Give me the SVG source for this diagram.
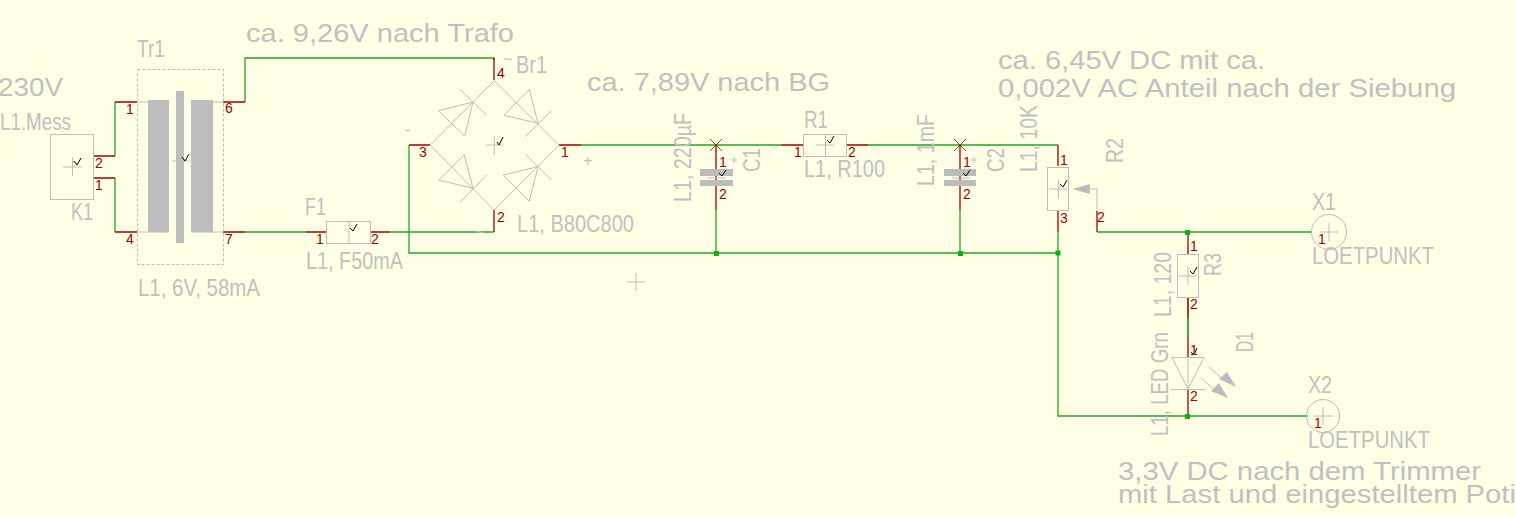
<svg xmlns="http://www.w3.org/2000/svg" width="1516" height="517" viewBox="0 0 1516 517">
<style>
text{font-family:"Liberation Sans",Arial,sans-serif}
.t{fill:#c0c0c0;font-size:24px}
.b{fill:#c0c0c0;font-size:25px}
.s{fill:#c0c0c0;font-size:16px}
.p{fill:#a00000;font-size:14px}
.g{fill:none;stroke:#bcbcbc;stroke-width:1}
.f{fill:#bcbcbc;stroke:none}
.w{fill:none;stroke:#1fa81f;stroke-width:1.3}
.r{fill:none;stroke:#a00000;stroke-width:1.3}
.x{fill:none;stroke:#a00000;stroke-width:.8}
.c{fill:none;stroke:#000;stroke-width:1}
.j{fill:#10b010}
</style>
<rect width="1516" height="517" fill="#ffffe6"/>
<g id="connectors">
<path class="w" d="M115 156V102M115 178V232M245 102V58H494V60M245 232H306M390 232H494M409 145V253H1058M581 145H781M868 145H1058M716 210V253M960 210V253M1058 232V416H1187M1097 232H1312M1187 416H1308M1188 297V336"/>
<path class="r" d="M93 156H115M93 178H115M115 102H137M115 232H137M223 102H245M223 232H245M306 232H326M370 232H390M494 58V80M494 210V232M409 145H430M559 145H581M781 145H803M846 145H868M716 145V210M960 145V210M1058 145V166M1058 211V232M1097 211V232M1188 232V254M1188 297V318M1188 336V358M1188 390V416"/>
<path class="w" d="M1188 318V336"/>
<rect class="j" x="714" y="251" width="5" height="5"/>
<rect class="j" x="958" y="251" width="5" height="5"/>
<rect class="j" x="1055.500" y="250.500" width="5" height="5"/>
<rect class="j" x="1185" y="230" width="5" height="5"/>
<rect class="j" x="1185" y="414" width="5" height="5"/>
</g>
<g id="free-texts">
<text class="b" x="-2" y="96" textLength="65" lengthAdjust="spacingAndGlyphs">230V</text>
<text class="b" x="246" y="42" textLength="268" lengthAdjust="spacingAndGlyphs">ca. 9,26V nach Trafo</text>
<text class="b" x="587" y="91" textLength="243" lengthAdjust="spacingAndGlyphs">ca. 7,89V nach BG</text>
<text class="b" x="998" y="69" textLength="267" lengthAdjust="spacingAndGlyphs">ca. 6,45V DC mit ca.</text>
<text class="b" x="998" y="97" textLength="458" lengthAdjust="spacingAndGlyphs">0,002V AC Anteil nach der Siebung</text>
<text class="b" x="1118" y="480" textLength="363" lengthAdjust="spacingAndGlyphs">3,3V DC nach dem Trimmer</text>
<text class="b" x="1118" y="503" textLength="398" lengthAdjust="spacingAndGlyphs">mit Last und eingestelltem Poti</text>
<path class="g" d="M627 282H645M636 273V291"/>
</g>
<g id="K1">
<rect class="g" x="50.500" y="134.500" width="43" height="65"/>
<path class="g" d="M63 167H82M72.500 157V176"/>
<path class="c" d="M74 161L77 165L81 158"/>
<text class="t" x="0" y="130" textLength="71" lengthAdjust="spacingAndGlyphs">L1.Mess</text>
<text class="t" x="71" y="220" textLength="22" lengthAdjust="spacingAndGlyphs">K1</text>
<text class="p" x="95" y="168">2</text>
<text class="p" x="95" y="190">1</text>
</g>
<g id="Tr1">
<rect class="g" x="137.500" y="69.500" width="86" height="195" stroke-dasharray="3 2"/>
<rect class="f" x="148" y="100" width="21" height="132.500"/>
<rect class="f" x="176" y="91" width="8" height="152"/>
<rect class="f" x="191" y="100" width="22" height="132.500"/>
<path class="g" d="M137 102H148M213 102H223M137 232H148M213 232H223M172 161H190"/>
<path class="c" d="M182 157L185 161L189 154"/>
<text class="t" x="137" y="57" textLength="28" lengthAdjust="spacingAndGlyphs">Tr1</text>
<text class="t" x="138" y="296" textLength="122" lengthAdjust="spacingAndGlyphs">L1, 6V, 58mA</text>
<text class="p" x="126" y="114">1</text>
<text class="p" x="126" y="244">4</text>
<text class="p" x="225" y="113">6</text>
<text class="p" x="225" y="244">7</text>
</g>
<g id="F1">
<rect class="g" x="326.500" y="221.500" width="44" height="22"/>
<path class="g" d="M349 221V243"/>
<path class="c" d="M350 228L353 231L357 224"/>
<text class="t" x="305" y="215" textLength="21" lengthAdjust="spacingAndGlyphs">F1</text>
<text class="t" x="306" y="269" textLength="97" lengthAdjust="spacingAndGlyphs">L1, F50mA</text>
<text class="p" x="316" y="244">1</text>
<text class="p" x="371" y="244">2</text>
</g>
<g id="Br1">
<path class="g" d="M494.300 80.700L430 145.300L494.300 210L559 145.300Z"/>
<path class="g" d="M438.300 110.700L473 102L464.700 136ZM460 89.300L486.700 115.300"/>
<path class="g" d="M504 115.300L529.300 89.300L538 123.300ZM525.300 136.700L551.300 110.700"/>
<path class="g" d="M438.700 180L464.300 154.700L473 188.300ZM460 202.300L486.700 175"/>
<path class="g" d="M503.300 175L538 166.700L529.300 201.300ZM525.300 154L551.300 180"/>
<path class="g" d="M486 145H503M494.300 136V155"/>
<path class="c" d="M497 142L499 145L503 137"/>
<text class="t" x="516" y="73" textLength="31" lengthAdjust="spacingAndGlyphs">Br1</text>
<text class="t" x="517" y="232" textLength="117" lengthAdjust="spacingAndGlyphs">L1, B80C800</text>
<text class="s" x="503" y="65">~</text>
<text class="s" x="475" y="238">~</text>
<text class="s" x="405" y="135">-</text>
<text class="s" x="583" y="166">+</text>
<text class="p" x="497" y="78">4</text>
<text class="p" x="497" y="222">2</text>
<text class="p" x="419" y="157">3</text>
<text class="p" x="561" y="157">1</text>
</g>
<g id="C1">
<rect class="f" x="700" y="169" width="33" height="7"/>
<rect class="f" x="700" y="180" width="33" height="6"/>
<path class="x" d="M710 139L722 151M722 139L710 151"/>
<path class="g" d="M708 178H726M734 157V163M731 160H737"/>
<path class="c" d="M719 173L722 176L726 170"/>
<text class="t" transform="translate(691 202) rotate(-90)" textLength="89" lengthAdjust="spacingAndGlyphs">L1, 220µF</text>
<text class="t" transform="translate(760 172) rotate(-90)" textLength="24" lengthAdjust="spacingAndGlyphs">C1</text>
<text class="p" x="719" y="167">1</text>
<text class="p" x="719" y="199">2</text>
</g>
<g id="R1">
<rect class="g" x="803.500" y="134.500" width="43" height="22"/>
<path class="g" d="M816 145H834M825.500 134V156"/>
<path class="c" d="M827 140L830 143L834 136"/>
<text class="t" x="804" y="128" textLength="24" lengthAdjust="spacingAndGlyphs">R1</text>
<text class="t" x="804" y="177" textLength="81" lengthAdjust="spacingAndGlyphs">L1, R100</text>
<text class="p" x="794" y="157">1</text>
<text class="p" x="848" y="157">2</text>
</g>
<g id="C2">
<rect class="f" x="944" y="169" width="32" height="7"/>
<rect class="f" x="944" y="180" width="32" height="6"/>
<path class="x" d="M954 139L966 151M966 139L954 151"/>
<path class="g" d="M952 178H970M974 157V163M971 160H977"/>
<path class="c" d="M963 173L966 176L970 170"/>
<text class="t" transform="translate(934 186) rotate(-90)" textLength="72" lengthAdjust="spacingAndGlyphs">L1, 1mF</text>
<text class="t" transform="translate(1004 172) rotate(-90)" textLength="24" lengthAdjust="spacingAndGlyphs">C2</text>
<text class="p" x="963" y="167">1</text>
<text class="p" x="963" y="199">2</text>
</g>
<g id="R2">
<rect class="g" x="1047.500" y="167.500" width="21" height="43"/>
<path class="g" d="M1049 189H1067M1058.500 180V198M1090 189H1097V211"/>
<path class="f" d="M1072 189L1090 184V194Z"/>
<path class="c" d="M1060 184L1063 187L1067 180"/>
<text class="t" transform="translate(1037 172) rotate(-90)" textLength="67" lengthAdjust="spacingAndGlyphs">L1, 10K</text>
<text class="t" transform="translate(1123 163) rotate(-90)" textLength="25" lengthAdjust="spacingAndGlyphs">R2</text>
<text class="p" x="1060" y="165">1</text>
<text class="p" x="1060" y="223">3</text>
<text class="p" x="1097" y="222">2</text>
</g>
<g id="R3">
<rect class="g" x="1177.500" y="254.500" width="21" height="43"/>
<path class="g" d="M1179 276H1197M1188 267V285"/>
<path class="c" d="M1190 271L1193 274L1197 267"/>
<text class="t" transform="translate(1171 317) rotate(-90)" textLength="65" lengthAdjust="spacingAndGlyphs">L1, 120</text>
<text class="t" transform="translate(1221 276) rotate(-90)" textLength="23" lengthAdjust="spacingAndGlyphs">R3</text>
<text class="p" x="1190" y="251">1</text>
<text class="p" x="1190" y="309">2</text>
</g>
<g id="D1">
<path class="g" d="M1172 357.500H1204L1188 389ZM1171 389.500H1205M1188 357V389"/>
<path class="g" d="M1209 367L1224 380M1201 378L1216 391"/>
<path class="f" d="M1236 387L1219 379L1227 372ZM1228 398L1211 391L1219 383Z"/>
<path class="c" d="M1191 352L1194 355L1197 348"/>
<text class="t" transform="translate(1168 436) rotate(-90)" textLength="104" lengthAdjust="spacingAndGlyphs">L1, LED Grn</text>
<text class="t" transform="translate(1253 352) rotate(-90)" textLength="20" lengthAdjust="spacingAndGlyphs">D1</text>
<text class="p" x="1190" y="355">1</text>
<text class="p" x="1190" y="401">2</text>
</g>
<g id="X1">
<circle class="g" cx="1329" cy="232" r="17.500"/>
<path class="g" d="M1320 232H1338M1329 223V241"/>
<text class="t" x="1312" y="210" textLength="24" lengthAdjust="spacingAndGlyphs">X1</text>
<text class="t" x="1312" y="264" textLength="122" lengthAdjust="spacingAndGlyphs">LOETPUNKT</text>
<text class="p" x="1318" y="244">1</text>
</g>
<g id="X2">
<circle class="g" cx="1323" cy="416" r="16.500"/>
<path class="g" d="M1314 416H1333M1323 407V425"/>
<text class="t" x="1308" y="393" textLength="24" lengthAdjust="spacingAndGlyphs">X2</text>
<text class="t" x="1308" y="448" textLength="122" lengthAdjust="spacingAndGlyphs">LOETPUNKT</text>
<text class="p" x="1314" y="428">1</text>
</g>
</svg>
